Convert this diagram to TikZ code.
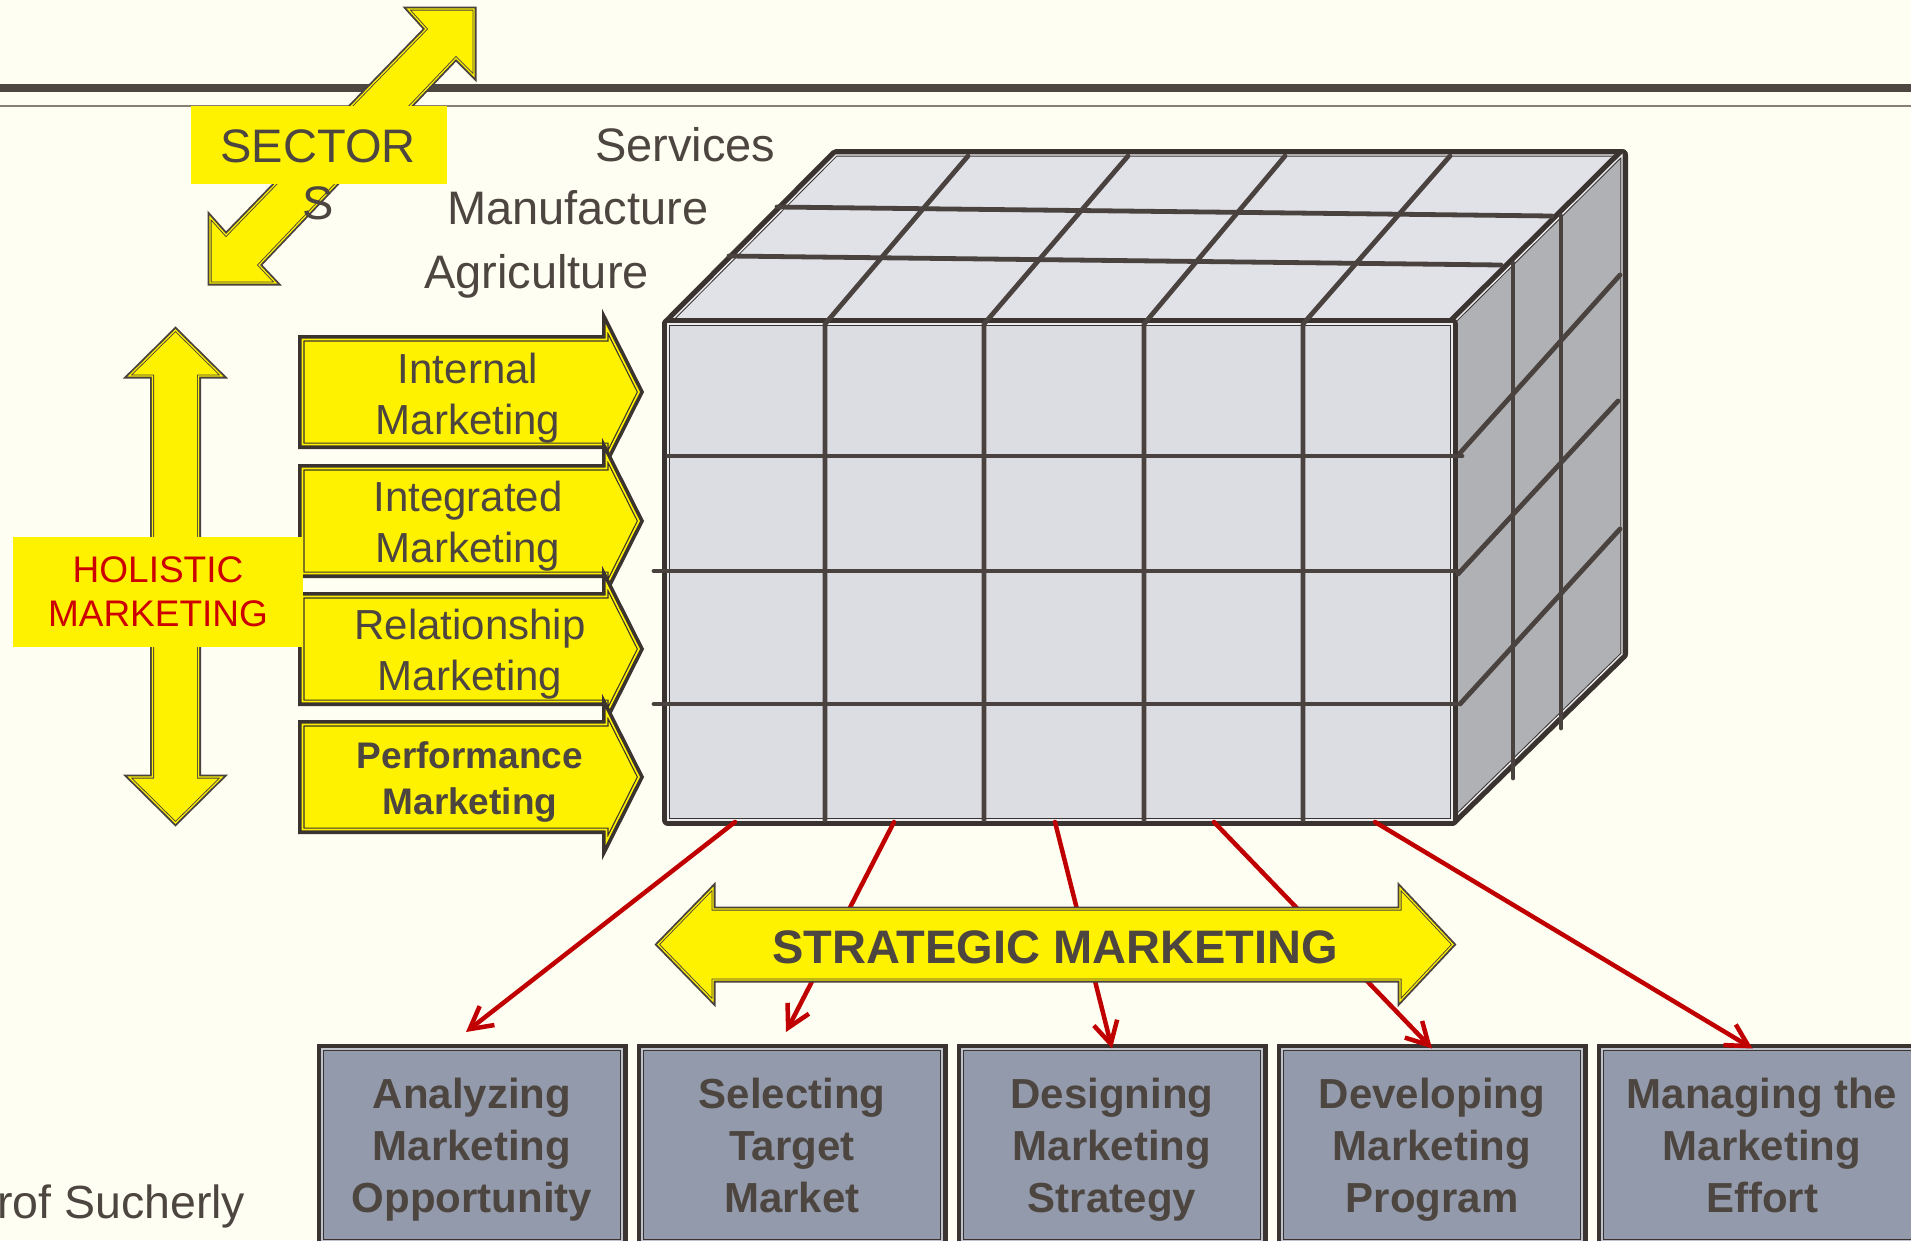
\documentclass[tikz,border=0pt]{standalone}
\usepackage{fontspec}
\setmainfont{Liberation Sans}
\usetikzlibrary{arrows.meta}
\definecolor{bgcream}{RGB}{255,254,242}
\definecolor{inkgrey}{RGB}{77,69,64}
\definecolor{edgedark}{RGB}{59,51,48}
\definecolor{arrowedge}{RGB}{74,66,62}
\definecolor{gridline}{RGB}{74,66,62}
\definecolor{frontface}{RGB}{220,221,226}
\definecolor{topface}{RGB}{225,226,231}
\definecolor{sideface}{RGB}{176,177,181}
\definecolor{faceline}{RGB}{236,237,240}
\definecolor{boxblue}{RGB}{147,154,171}
\definecolor{boxline}{RGB}{190,194,204}
\definecolor{arrowred}{RGB}{192,0,0}
\definecolor{holired}{RGB}{204,0,0}
\definecolor{ruleline}{RGB}{77,70,65}
\definecolor{thinrule}{RGB}{135,127,115}
\begin{document}
\begin{tikzpicture}[x=1pt, y=-1pt,
    txt/.style={text=inkgrey, inner sep=0pt, font=\fontsize{47}{57}\selectfont},
    tabtxt/.style={text=inkgrey, inner sep=0pt, align=center, font=\fontsize{42}{51}\selectfont},
    boxtxt/.style={text=inkgrey, inner sep=0pt, align=center, font=\bfseries\fontsize{42}{52}\selectfont},
    tab/.style={fill=yellow, preaction={draw=edgedark, line width=9pt}, draw=edgedark, line width=1.2pt, double=yellow, double distance=1.6pt},
    dblarrow/.style={fill=yellow, preaction={draw=arrowedge, line width=5pt}, draw=arrowedge, line width=0.9pt, double=yellow, double distance=1.2pt},
    face/.style={preaction={draw=edgedark, line width=12pt, line join=round}, draw=edgedark, line width=1pt, double=faceline, double distance=1.4pt},
    grid/.style={draw=gridline, line width=4.8pt, line cap=round, line join=round},
    stage/.style={preaction={draw=edgedark, line width=11pt}, draw=edgedark, line width=1pt, double=boxline, double distance=1.4pt, fill=boxblue, minimum width=300pt, minimum height=192pt, inner sep=0pt},
    redarr/.style={draw=arrowred, line width=4.5pt, line cap=round, -{Straight Barb[length=22pt, width=24pt]}}]
    \useasboundingbox (0,0) rectangle (1911,1240);
    \clip (0,0) rectangle (1911,1240);
    \fill[bgcream] (0,0) rectangle (1911,1240);

    % header rules
    \draw[ruleline, line width=8pt] (0,88) -- (1911,88);
    \draw[thinrule, line width=2pt] (0,106) -- (1911,106);

    % sectors
    \draw[dblarrow] (474,9) -- (474,76) -- (456,58) -- (259,265) -- (276,283) -- (210,283) -- (210,217) -- (226,235) -- (426,29) -- (408,9) -- cycle;
    \node[fill=yellow, minimum width=256pt, minimum height=78pt, inner sep=0pt, anchor=north west] (secbox) at (191,106) {};
    \node[txt, align=center, anchor=north] (sectors) at (318,129) {SECTOR\\S};

    \node[txt, anchor=base west] (serv) at (595,161) {Services};
    \node[txt, anchor=base west] (manu) at (447,224) {Manufacture};
    \node[txt, anchor=base west] (agri) at (424,288) {Agriculture};

    % holistic marketing
    \draw[dblarrow] (175.5,330) -- (222,376) -- (198.5,376) -- (198.5,777) -- (222,777) -- (175.5,823) -- (129,777) -- (152.5,777) -- (152.5,376) -- (129,376) -- cycle;

    \foreach \t in {335,464,592,720}
        \draw[tab] (302.5,\t+4.5) -- (606.5,\t+4.5) -- (606.5,\t-7.5) -- (639,\t+57) -- (606.5,\t+121.5) -- (606.5,\t+109.5) -- (302.5,\t+109.5) -- cycle;

    \node[tabtxt, anchor=north] (intm) at (468,353) {Internal\\Marketing};
    \node[tabtxt, anchor=north] (integm) at (468,481) {Integrated\\Marketing};
    \node[tabtxt, anchor=north] (relm) at (470,609) {Relationship\\Marketing};
    \node[tabtxt, anchor=north, font=\bfseries\fontsize{37}{46}\selectfont] (perfm) at (470,741) {Performance\\Marketing};

    \node[fill=yellow, text=holired, align=center, inner sep=0pt, minimum width=290pt, minimum height=110pt, font=\fontsize{37}{44}\selectfont] (holi) at (158,592) {HOLISTIC\\MARKETING};

    % the cube
    \draw[face, fill=topface] (668,324) -- (836,155) -- (1622,155) -- (1452,324) -- cycle;
    \draw[face, fill=sideface] (1452,324) -- (1622,155) -- (1622,654) -- (1452,820) -- cycle;
    \draw[face, fill=frontface] (668,324) rectangle (1452,820);

    \foreach \fx/\bx in {825/968, 984/1128, 1144/1285, 1303/1450}
        \draw[grid] (\fx,820) -- (\fx,324) -- (\bx,156);
    \draw[grid] (777,207) -- (1552,216);
    \draw[grid] (729,256) -- (1501,265);
    \draw[grid] (668,456) -- (1462,456);
    \draw[grid] (654,571) -- (1460,571);
    \draw[grid] (654,704) -- (1460,704);
    \draw[grid] (1513,263) -- (1513,778);
    \draw[grid] (1561,216) -- (1561,728);
    \draw[grid] (1460,453) -- (1620,275);
    \draw[grid] (1458,574) -- (1618,401);
    \draw[grid] (1460,704) -- (1620,529);

    \coordinate (s1) at (735,822);
    \coordinate (s2) at (894,822);
    \coordinate (s3) at (1055,822);
    \coordinate (s4) at (1214,822);
    \coordinate (s5) at (1375,822);

    % stages
    \foreach \i/\bx in {1/321.5, 2/641.5, 3/961.5, 4/1281.5}
        \node[stage, anchor=north west] (b\i) at (\bx,1048.5) {};
    \node[stage, anchor=north west, minimum width=320pt] (b5) at (1601.5,1048.5) {};

    \node[boxtxt, anchor=north] (t1) at ([yshift=-29.5pt]b1.north) {Analyzing\\Marketing\\Opportunity};
    \node[boxtxt, anchor=north] (t2) at ([yshift=-29.5pt]b2.north) {Selecting\\Target\\Market};
    \node[boxtxt, anchor=north] (t3) at ([yshift=-29.5pt]b3.north) {Designing\\Marketing\\Strategy};
    \node[boxtxt, anchor=north] (t4) at ([yshift=-29.5pt]b4.north) {Developing\\Marketing\\Program};
    \node[boxtxt, anchor=north] (t5) at ([yshift=-29.5pt]b5.north) {Managing the\\Marketing\\Effort};

    \draw[redarr] (s1) -- ([xshift=-6pt, yshift=16.5pt]b1.north);
    \draw[redarr] (s2) -- ([xshift=-6pt, yshift=16.5pt]b2.north);
    \draw[redarr] (s3) -- (b3.north);
    \draw[redarr] (s4) -- (b4.north);
    \draw[redarr] (s5) -- ([xshift=151pt]b5.north west);

    % strategic marketing
    \draw[dblarrow] (658,944.5) -- (713,888) -- (713,909) -- (1400,909) -- (1400,888) -- (1453,944.5) -- (1400,1001) -- (1400,980) -- (713,980) -- (713,1001) -- cycle;
    \node[text=inkgrey, inner sep=0pt, anchor=base, font=\bfseries\fontsize{47}{56}\selectfont] (stratm) at (1055,963) {STRATEGIC MARKETING};

    \node[txt, anchor=base west, font=\fontsize{46.5}{56}\selectfont] (prof) at (-3,1218) {rof Sucherly};
\end{tikzpicture}
\end{document}
